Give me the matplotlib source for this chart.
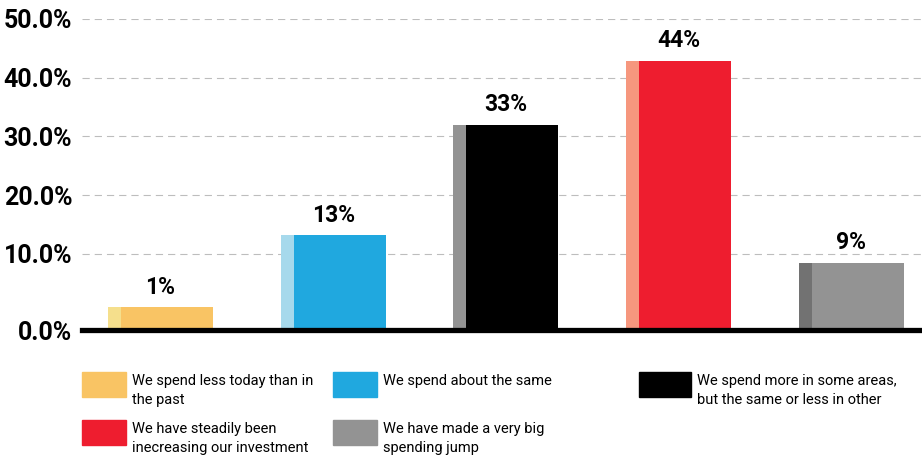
import matplotlib
matplotlib.use('Agg')
import matplotlib.pyplot as plt
from matplotlib.patches import Rectangle

# data
categories = ['We spend less today than in\nthe past',
              'We spend about the same',
              'We spend more in some areas,\nbut the same or less in other',
              'We have steadily been\ninecreasing our investment',
              'We have made a very big\nspending jump']
values = [1.0, 13.2, 32.0, 42.9, 8.5]
value_labels = ['1%', '13%', '33%', '44%', '9%']
tick_vals = [10, 20, 30, 40, 50]
tick_labels = ['10.0%', '20.0%', '30.0%', '40.0%', '50.0%']

main_colors = ['#F9C464', '#20A8DF', '#000000', '#EE1D2F', '#939393']
side_colors = ['#F5DF8C', '#A6D9EC', '#939393', '#F6977E', '#727272']

plt.rcParams['font.family'] = 'Roboto'

W, H = 922, 462
fig = plt.figure(figsize=(W / 100, H / 100), dpi=100)
ax = fig.add_axes([82 / W, (H - 330) / H, (W - 82) / W, (330 - 19) / H])

floor = -2.94   # the black base line sits a bit below zero
ax.set_ylim(floor, 50)
ax.set_xlim(-0.455, 4.41)

full_w = 0.608
side_w = 0.075
for i, v in enumerate(values):
    left = i - full_w / 2
    ax.bar(left, v - floor, width=side_w, bottom=floor, align='edge',
           color=side_colors[i], zorder=2)
    ax.bar(left + side_w, v - floor, width=full_w - side_w, bottom=floor,
           align='edge', color=main_colors[i], zorder=2)
    ax.annotate(value_labels[i], (i, v), xytext=(0, 6), textcoords='offset points',
                ha='center', va='bottom', fontsize=16.5, fontweight='bold')

for t in tick_vals:
    gl, = ax.plot([-0.455, 4.41], [t, t], color='#BDBDBD', lw=0.8, zorder=1)
    gl.set_dashes((6.5, 4.5))
ax.axhline(floor, color='black', lw=3.8, zorder=3, clip_on=False)

ax.set_yticks([floor] + tick_vals)
ax.set_yticklabels(['0.0%'] + tick_labels, fontsize=18, fontweight='bold')
ax.tick_params(axis='y', length=0, pad=7)
ax.set_xticks([])
for s in ax.spines.values():
    s.set_visible(False)

# legend drawn by hand, 3 columns
sw_x = [82, 333, 639]
sw_w = [44, 44, 52]
row_top = [372, 420]
for k, lab in enumerate(categories):
    r, c = divmod(k, 3)
    x0 = sw_x[c]
    y0 = row_top[r]
    fig.add_artist(Rectangle((x0 / W, 1 - (y0 + 25) / H), sw_w[c] / W, 25 / H,
                             transform=fig.transFigure, color=main_colors[k]))
    fig.text((x0 + sw_w[c] + 6) / W, 1 - (y0 + 2) / H, lab, ha='left', va='top',
             fontsize=10.5, linespacing=1.45)

plt.savefig('out.png', dpi=100)
